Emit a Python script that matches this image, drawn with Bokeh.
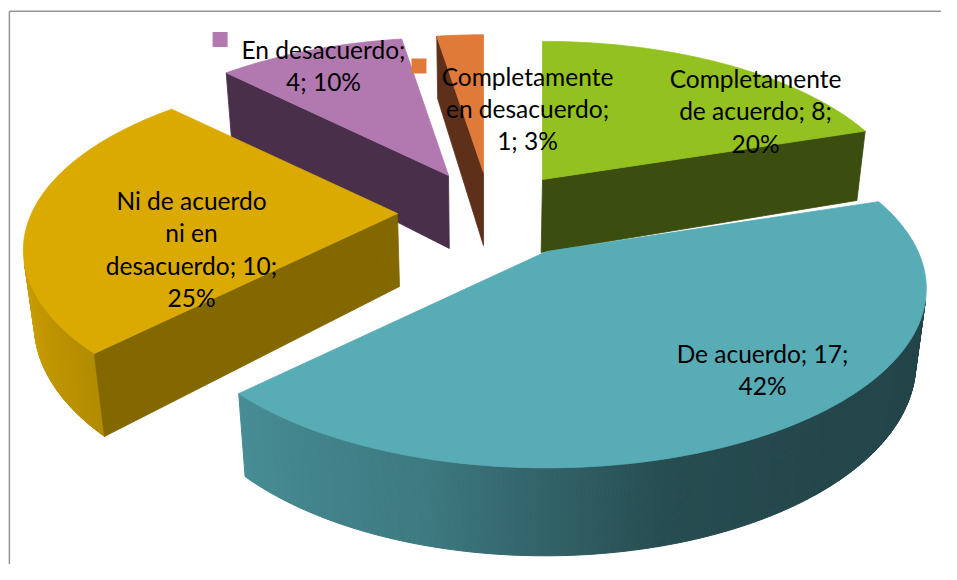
import numpy as np
from decimal import Decimal, ROUND_HALF_UP
from bokeh.plotting import figure
from bokeh.models import Range1d, ColumnDataSource
from bokeh.embed import file_html
from bokeh.resources import INLINE
from bokeh.core.properties import value

# ---------------- data ----------------
categories = ["Completamente de acuerdo", "De acuerdo",
              "Ni de acuerdo ni en desacuerdo", "En desacuerdo",
              "Completamente en desacuerdo"]
counts = [8, 17, 10, 4, 1]

# ---------------- style ----------------
top_colors = ["#93C11F", "#57ACB6", "#DAAA00", "#B279B0", "#E07A39"]
face_colors = ["#3C4E0F", "#23464B", "#836800", "#4A2F4A", "#5E2F19"]
tip_xy = [(542, 179), (546, 251), (397, 213), (448, 175), (483, 172)]   # exploded slice tips (px)
label_xy = [(755, 78), (762, 353), (191, 200), (323, 49), (527, 75.5)]  # label centre / first baseline
FONT = "Lato"
FONT_PX = 24.5
LINE_H = 32.4

A0, B0, K, D0, KD = 366.0, 169.0, 0.207, 73.0, 0.17
VX, VS = 483.0, 0.023
light_deg = [90, 140, 165, 183, 195, 225, 240, 260, 275]
light_val = [0.40, 0.41, 0.45, 0.60, 0.71, 0.82, 0.88, 0.95, 0.96]

W, H = 941, 564
p = figure(width=W, height=H, x_range=Range1d(0, W), y_range=Range1d(H, 0),
           x_axis_type=None, y_axis_type=None, toolbar_location=None,
           output_backend="svg", min_border=0, outline_line_color=None,
           background_fill_color="white", border_fill_color="white")
p.grid.visible = False

total = float(sum(counts))
fracs = [c / total for c in counts]
pcts = [int((Decimal(f) * 100).quantize(Decimal("1"), rounding=ROUND_HALF_UP)) for f in fracs]
starts = 2 * np.pi * np.concatenate([[0.0], np.cumsum(fracs)[:-1]])
ends = starts + 2 * np.pi * np.array(fracs)


def scl(ty):
    return 1 + (ty - 213) * 0.0004


def top_point(i, th):
    tx, ty = tip_xy[i]
    s = scl(ty)
    den = 1 + K * np.cos(th)
    return tx + s * A0 * np.sin(th) / den, ty - s * B0 * np.cos(th) / den


def depth(th):
    return D0 / (1 + KD * np.cos(th))


def drop(x, y, dep):
    return x + (VX - x) * VS * dep / D0, y + dep


def area(xs, ys):
    xs = np.asarray(xs); ys = np.asarray(ys)
    return float(np.sum(xs * np.roll(ys, -1) - np.roll(xs, -1) * ys))


def shade(hexc, f):
    r, g, b = int(hexc[1:3], 16), int(hexc[3:5], 16), int(hexc[5:7], 16)
    return "#%02x%02x%02x" % (int(r * f), int(g * f), int(b * f))


order = np.argsort([t[1] for t in tip_xy])
for i in order:
    a, b = starts[i], ends[i]
    n = max(8, int(np.degrees(b - a) * 2))
    th = np.linspace(a, b, n)
    tx, ty = top_point(i, th)
    bx, by = drop(tx, ty, depth(th))
    ax, ay = tip_xy[i]
    abx, aby = drop(ax, ay, D0)

    # outer wall (visible segments)
    wx, wy, wc = [], [], []
    for j in range(n - 1):
        qx = [tx[j], tx[j + 1], bx[j + 1], bx[j]]
        qy = [ty[j], ty[j + 1], by[j + 1], by[j]]
        if area(qx, qy) < -1e-6:
            mid = np.degrees(0.5 * (th[j] + th[j + 1]))
            wx.append(qx); wy.append(qy)
            wc.append(shade(top_colors[i], float(np.interp(mid, light_deg, light_val))))
    if wx:
        src = ColumnDataSource(dict(xs=wx, ys=wy, c=wc))
        p.patches("xs", "ys", source=src, fill_color="c", line_color="c", line_width=1)

    # radial cut faces
    fs = ([ax, tx[0], bx[0], abx], [ay, ty[0], by[0], aby])
    fe = ([ax, abx, bx[-1], tx[-1]], [ay, aby, by[-1], ty[-1]])
    for fx, fy in (fs, fe):
        if area(fx, fy) < -600:
            p.patch(fx, fy, fill_color=face_colors[i], line_color=face_colors[i], line_width=0.8)

    # top face
    p.patch([ax] + list(tx), [ay] + list(ty), fill_color=top_colors[i],
            line_color=top_colors[i], line_width=0.8)

# ---------------- labels ----------------
cw = {' ': .2, 'a': .49, 'c': .44, 'd': .55, 'e': .51, 'l': .23, 'm': .82, 'n': .55,
      'o': .55, 'p': .55, 'r': .36, 's': .41, 't': .34, 'u': .55, 'i': .23, 'C': .64,
      'D': .69, 'E': .54, 'N': .73, ';': .23, '%': .79}


def text_w(s):
    return sum(cw.get(ch, 0.58) for ch in s) * FONT_PX


def wrap(s, width=15):
    lines, cur = [], ""
    for w in s.split(" "):
        if not cur:
            cur = w
        elif len(cur) + 1 + len(w) <= width:
            cur += " " + w
        else:
            lines.append(cur)
            cur = w
    lines.append(cur)
    return lines


lx, ly, lt = [], [], []
kx, ky, kc = [], [], []
for i, cat in enumerate(categories):
    lines = wrap(f"{cat}; {counts[i]}; {pcts[i]}%")
    cx, by0 = label_xy[i]
    for k, ln in enumerate(lines):
        lx.append(cx); ly.append(by0 + k * LINE_H); lt.append(ln)
    kx.append(cx - text_w(lines[0]) / 2 - 17 - 7.5)
    ky.append(by0 - 10)
    kc.append(top_colors[i])

p.rect(kx, ky, width=15, height=15, fill_color=kc, line_color=None)
p.text(lx, ly, text=lt, text_font=value(FONT), text_font_size=f"{FONT_PX}px",
       text_align="center", text_baseline="alphabetic", text_color="black")

# chart-area border (left and top edges visible)
p.line([8.9, 8.9], [H, 10.8], line_color="#959595", line_width=1.5)
p.line([8.9, W], [10.8, 10.8], line_color="#959595", line_width=1.5)

open("out.html", "w").write(file_html(p, INLINE))
